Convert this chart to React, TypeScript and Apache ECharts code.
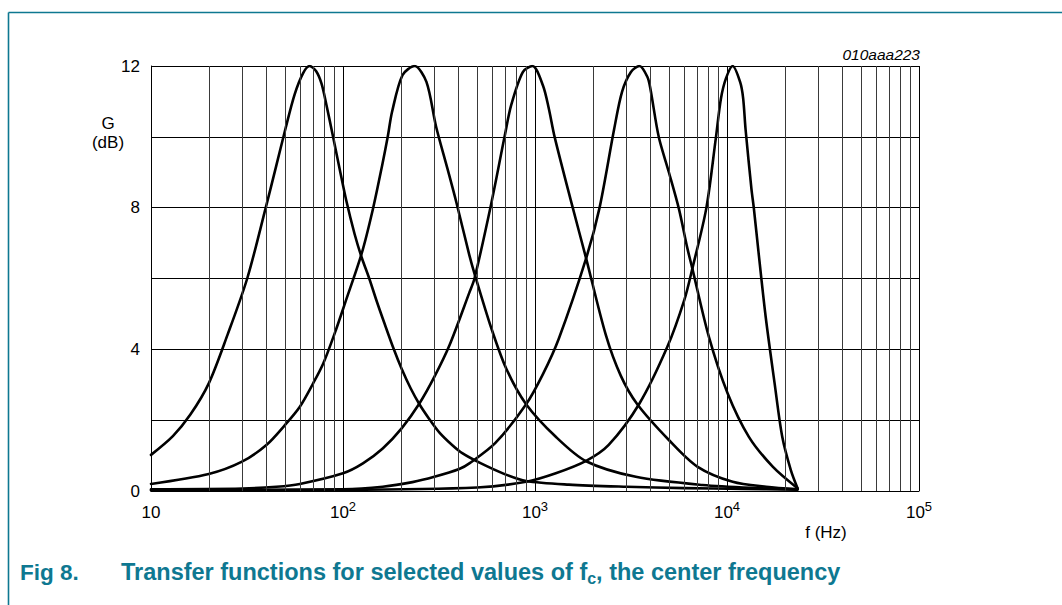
import React, { useEffect, useRef } from "react";
import * as echarts from "echarts";

// ---- data ----
const f1 = [10, 13, 16, 20, 25, 31.7, 39.6, 45, 50, 56, 62, 67, 72.5, 77.3, 82, 88, 96, 104, 115, 125, 137, 150, 164, 184, 202, 225, 250, 280, 318, 370, 420, 514, 700, 899, 1500, 3000, 6000, 12000, 23300];
const g1 = [1.02, 1.55, 2.15, 3.04, 4.4, 6.0, 8.0, 9.2, 10.2, 11.2, 11.8, 12.0, 11.85, 11.5, 10.9, 10.1, 9.1, 8.2, 7.25, 6.6, 6.0, 5.35, 4.75, 4.0, 3.45, 2.9, 2.45, 2.05, 1.65, 1.3, 1.06, 0.8, 0.47, 0.28, 0.18, 0.12, 0.08, 0.06, 0.04];

const f2 = [10, 20, 29.6, 39.9, 49.8, 59.6, 69.9, 78.9, 90.5, 103, 125, 143, 160, 171, 180, 204, 236, 272, 305, 350, 389, 455, 484, 592, 709, 899, 1283, 1846, 3350, 7450, 15000, 23300];
const g2 = [0.2, 0.48, 0.82, 1.3, 1.86, 2.38, 3.04, 3.6, 4.45, 5.34, 6.7, 7.95, 9.2, 10.0, 10.7, 11.74, 12.0, 11.55, 10.3, 9.1, 8.16, 6.66, 6.14, 4.6, 3.45, 2.45, 1.53, 0.84, 0.4, 0.17, 0.08, 0.05];

const f3 = [10, 30, 45, 59.6, 100, 127, 161, 202, 250, 299, 359, 455, 484, 592, 694, 752, 864, 970, 1100, 1180, 1265, 1560, 1846, 2340, 2800, 3410, 4980, 7000, 10700, 16000, 23300];
const g3 = [0.05, 0.07, 0.12, 0.2, 0.5, 0.78, 1.2, 1.77, 2.47, 3.22, 4.12, 5.6, 6.0, 8.12, 10.0, 10.9, 11.83, 12.0, 11.45, 10.8, 10.0, 8.07, 6.57, 4.4, 3.25, 2.45, 1.44, 0.69, 0.26, 0.12, 0.05];

const f4 = [10, 100, 161, 230, 299, 403, 455, 620, 899, 1100, 1330, 1846, 2165, 2580, 2840, 3160, 3500, 3850, 3990, 4410, 4980, 5610, 6220, 6600, 8050, 10070, 13000, 17300, 23300];
const g4 = [0.03, 0.05, 0.12, 0.25, 0.4, 0.62, 0.78, 1.35, 2.45, 3.3, 4.3, 6.57, 7.98, 10.2, 11.27, 11.83, 12.0, 11.69, 11.36, 10.0, 9.0, 7.98, 6.85, 6.28, 4.35, 2.76, 1.53, 0.69, 0.08];

const f5 = [10, 100, 500, 899, 1283, 1846, 2420, 3500, 4890, 5990, 6600, 7800, 8740, 9300, 9875, 10700, 11700, 12130, 12500, 13400, 13800, 14650, 15900, 17700, 19400, 21500, 23300];
const g5 = [0.02, 0.03, 0.1, 0.26, 0.5, 0.85, 1.3, 2.47, 4.07, 5.39, 6.28, 7.98, 9.95, 11.08, 11.65, 12.0, 11.55, 11.1, 10.2, 8.54, 7.98, 6.66, 4.92, 3.04, 1.53, 0.59, 0.08];

const curveFreqs = [f1, f2, f3, f4, f5];
const curveGains = [g1, g2, g3, g4, g5];

const decades = [10, 100, 1000, 10000];
const minorMultipliers = [2, 3, 4, 5, 6, 7, 8, 9];
const yTickLabels = [0, 4, 8, 12];

const FONT = "'Liberation Sans', Arial, Helvetica, sans-serif";
const TEAL = "#0e7891";

export default function App() {
  const ref = useRef<HTMLDivElement>(null);

  useEffect(() => {
    const chart = echarts.init(ref.current!, null, { renderer: "svg" });

    const minorLines: number[] = [];
    decades.forEach((d) => minorMultipliers.forEach((m) => minorLines.push(d * m)));

    const curveSeries = curveFreqs.map((fs, i) => ({
      type: "line",
      name: "c" + i,
      data: fs.map((f, j) => [f, curveGains[i][j]]),
      showSymbol: false,
      symbol: "none",
      smooth: 0.3,
      z: 3,
      lineStyle: { color: "#000", width: 2.6, cap: "round", join: "round" },
      silent: true,
    }));

    const option: any = {
      animation: false,
      backgroundColor: "#fff",
      textStyle: { fontFamily: FONT },
      grid: { left: 151, right: 143, top: 66, bottom: 114, containLabel: false },
      xAxis: {
        type: "log",
        logBase: 10,
        min: 10,
        max: 100000,
        axisLine: { show: true, lineStyle: { color: "#000", width: 1 } },
        axisTick: { show: false },
        splitLine: { show: true, lineStyle: { color: "#000", width: 1 } },
        axisLabel: {
          margin: 9,
          formatter: (v: number) => {
            const e = Math.round(Math.log10(v));
            return e === 1 ? "{b|10}" : "{b|10}{s|" + e + "}";
          },
          rich: {
            b: { fontSize: 17, color: "#000", fontFamily: FONT, lineHeight: 21, verticalAlign: "bottom" },
            s: { fontSize: 13, color: "#000", fontFamily: FONT, lineHeight: 13, verticalAlign: "top" },
          },
        },
      },
      yAxis: {
        type: "value",
        min: 0,
        max: 12,
        interval: 2,
        axisLine: { show: true, lineStyle: { color: "#000", width: 1 } },
        axisTick: { show: false },
        splitLine: { show: true, lineStyle: { color: "#000", width: 1 } },
        axisLabel: {
          margin: 11,
          fontSize: 17,
          color: "#000",
          fontFamily: FONT,
          formatter: (v: number) => (yTickLabels.indexOf(v) >= 0 ? String(v) : ""),
        },
      },
      series: [
        {
          type: "line",
          data: [[10, 0]],
          symbol: "none",
          lineStyle: { width: 0 },
          z: 1,
          silent: true,
          markLine: {
            silent: true,
            symbol: ["none", "none"],
            label: { show: false },
            lineStyle: { color: "#3a3a3a", width: 1, type: "solid" },
            emphasis: { disabled: true },
            data: minorLines.map((v) => ({ xAxis: v })),
          },
        },
        ...curveSeries,
      ],
      graphic: [
        {
          type: "line",
          shape: { x1: 8.5, y1: 12.5, x2: 1062, y2: 12.5 },
          style: { stroke: TEAL, lineWidth: 1.6 },
        },
        {
          type: "line",
          shape: { x1: 8.5, y1: 12.5, x2: 8.5, y2: 605 },
          style: { stroke: TEAL, lineWidth: 1.6 },
        },
        {
          type: "text",
          x: 920,
          y: 62,
          style: {
            text: "010aaa223",
            fontSize: 15.5,
            fontStyle: "italic",
            fontFamily: FONT,
            fill: "#000",
            align: "right",
            verticalAlign: "bottom",
          },
        },
        {
          type: "text",
          x: 108,
          y: 123,
          style: { text: "G", fontSize: 17, fontFamily: FONT, fill: "#000", align: "center", verticalAlign: "middle" },
        },
        {
          type: "text",
          x: 108,
          y: 142,
          style: { text: "(dB)", fontSize: 17, fontFamily: FONT, fill: "#000", align: "center", verticalAlign: "middle" },
        },
        {
          type: "text",
          x: 826,
          y: 532,
          style: { text: "f (Hz)", fontSize: 17, fontFamily: FONT, fill: "#000", align: "center", verticalAlign: "middle" },
        },
        {
          type: "text",
          x: 20,
          y: 572,
          style: {
            text: "Fig 8.",
            fontSize: 22.5,
            fontWeight: "bold",
            fontFamily: FONT,
            fill: TEAL,
            align: "left",
            verticalAlign: "middle",
          },
        },
        {
          type: "text",
          x: 121,
          y: 572,
          style: {
            text: "{t|Transfer functions for selected values of f}{c|c}{t|, the center frequency}",
            fontFamily: FONT,
            align: "left",
            verticalAlign: "middle",
            rich: {
              t: { fontSize: 23.5, fontWeight: "bold", fill: TEAL, fontFamily: FONT, lineHeight: 28, verticalAlign: "middle" },
              c: { fontSize: 16, fontWeight: "bold", fill: TEAL, fontFamily: FONT, lineHeight: 28, verticalAlign: "bottom" },
            },
          },
        },
      ],
    };

    chart.setOption(option);
    return () => chart.dispose();
  }, []);

  return (
    <div
      ref={ref}
      style={{ position: "absolute", left: 0, top: 0, width: 1062, height: 605, background: "#fff" }}
    />
  );
}
